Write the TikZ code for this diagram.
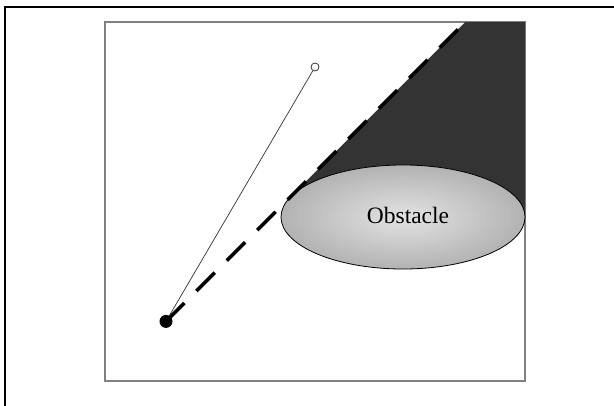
\documentclass[tikz,border=0pt]{standalone}
\usepackage{fontspec}
\setmainfont{Liberation Serif}
\usetikzlibrary{shapes.geometric}
\definecolor{shadow}{HTML}{333333}
\definecolor{frame}{HTML}{808080}
\tikzset{
  outerframe/.style={line width=2pt, draw=black},
  fieldbox/.style={line width=1.5pt, draw=frame},
  obstacle/.style={ellipse, draw=black, line width=0.8pt, minimum width=244pt, minimum height=104pt, inner sep=0pt, inner color=black!11, outer color=black!30},
  robot/.style={circle, fill=black, inner sep=0pt, minimum size=13pt},
  target/.style={circle, draw=black!80, fill=white, line width=0.8pt, inner sep=0pt, minimum size=8pt},
  sightline/.style={line width=3.5pt, dash pattern=on 26pt off 17pt},
  pathline/.style={line width=0.7pt, draw=black!80}
}
\begin{document}
\begin{tikzpicture}[x=1pt,y=-1pt]
\useasboundingbox (0,0) rectangle (614,405);
\fill[white] (0,0) rectangle (614,405);
% outer frame (left and top edges visible)
\draw[outerframe] (5,406) -- (5,7) -- (615,7);
% field
\draw[fieldbox] (105,22) rectangle (525,381);
% key points
\coordinate (T) at (290.76,196.61);
\coordinate (top) at (465.37,22);
\coordinate (tr) at (525,22);
\coordinate (rm) at (525,217);
\coordinate (oc) at (403,217);
% shadow region
\fill[shadow] (T) -- (top) -- (tr) -- (rm) -- (oc) -- cycle;
% obstacle
\node[obstacle] (obs) at (403,217) {};
\node[font=\fontsize{23.5}{26}\selectfont, anchor=base, inner sep=0pt] (lbl) at (408,223) {Obstacle};
% robot and target
\node[robot] (start) at (166,321.4) {};
\node[target] (goal) at (315,67) {};
\draw[pathline] (start.center) -- (goal);
\draw[sightline] (start.center) -- (top);
\end{tikzpicture}
\end{document}
